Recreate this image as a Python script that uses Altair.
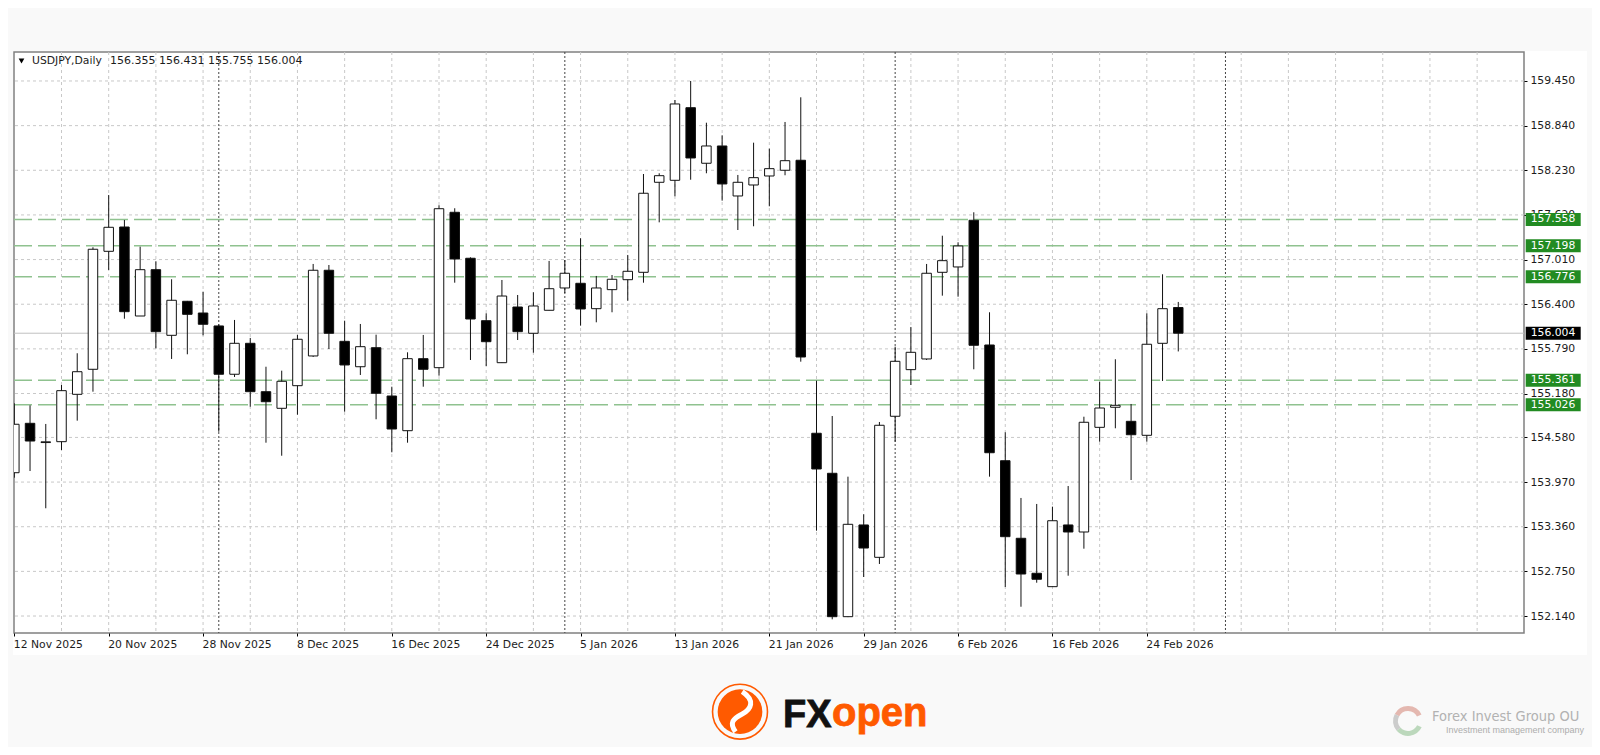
import json
import altair as alt
import pandas as pd

opens = [154.098,154.773,154.510,154.522,155.169,155.511,157.123,157.455,156.239,156.872,
         155.975,156.440,156.280,156.103,155.443,155.866,155.205,154.978,155.287,155.693,
         156.864,155.893,155.546,155.806,155.146,154.672,155.656,155.533,157.656,157.028,
         156.175,155.601,156.362,156.003,156.317,156.622,156.686,156.339,156.599,156.735,
         156.836,158.066,158.093,159.085,158.326,158.562,157.879,158.029,158.152,158.230,
         158.367,154.637,154.090,152.131,153.384,152.942,154.869,155.506,155.652,156.836,
         156.909,157.547,155.843,154.262,153.202,152.724,152.541,153.384,153.288,154.718,
         154.992,154.800,154.609,155.866,156.355]
highs = [155.046,155.019,154.764,155.296,155.730,157.178,157.892,157.551,157.186,156.987,
         156.741,156.445,156.571,156.125,156.185,155.939,155.546,155.492,155.980,156.950,
         156.936,156.175,156.130,155.984,155.273,155.743,155.980,157.752,157.711,157.041,
         156.276,156.731,156.526,156.563,156.991,157.004,157.301,156.786,156.799,157.073,
         158.179,158.189,159.190,159.450,158.880,158.708,158.166,158.607,158.525,158.890,
         159.227,155.355,154.873,154.044,153.530,154.791,155.820,156.089,156.950,157.336,
         157.246,157.656,156.290,154.650,153.753,153.671,153.634,153.916,154.863,155.342,
         155.648,155.037,156.276,156.809,156.431]
lows = [154.030,154.121,153.612,154.408,154.809,155.205,156.868,156.202,156.239,155.798,
        155.652,155.716,155.975,154.658,155.406,155.000,154.508,154.330,154.891,155.680,
        155.788,154.932,155.433,154.828,154.377,154.508,155.273,155.424,156.694,155.638,
        155.556,155.598,155.911,155.738,156.315,156.553,156.107,156.153,156.290,156.448,
        156.694,157.519,157.875,158.101,158.189,157.815,157.414,157.465,157.738,158.162,
        155.615,153.306,152.095,152.125,152.673,152.851,154.522,155.296,155.638,156.517,
        156.503,155.511,154.044,152.537,152.267,152.595,152.537,152.691,153.060,154.522,
        154.705,153.998,154.522,155.351,155.755]
closes = [154.760,154.531,154.520,155.219,155.478,157.151,157.451,156.298,156.872,156.025,
          156.454,156.262,156.126,155.443,155.866,155.205,155.068,155.347,155.921,156.864,
          156.003,155.570,155.820,155.183,154.695,155.656,155.511,157.705,157.018,156.198,
          155.888,156.512,156.025,156.376,156.612,156.823,156.335,156.622,156.741,156.850,
          157.916,158.156,159.136,158.398,158.562,158.043,158.066,158.129,158.252,158.361,
          155.679,154.149,152.131,153.393,153.069,154.746,155.620,155.743,156.823,156.995,
          157.196,155.839,154.371,153.224,152.714,152.642,153.442,153.288,154.787,154.982,
          155.019,154.617,155.853,156.339,156.004]

date_labels = ["12 Nov 2025","20 Nov 2025","28 Nov 2025","8 Dec 2025","16 Dec 2025","24 Dec 2025",
               "5 Jan 2026","13 Jan 2026","21 Jan 2026","29 Jan 2026","6 Feb 2026","16 Feb 2026","24 Feb 2026"]
date_ticks = list(range(0, 73, 6))
grid_bars = list(range(3, 96, 3))
month_bars = [13, 35, 56, 77]
price_ticks = [159.45,158.84,158.23,157.62,157.01,156.40,155.79,155.18,154.58,153.97,153.36,152.75,152.14]
levels = [157.558,157.198,156.776,155.361,155.026]
last_price = 156.004
header_name = "USDJPY,Daily"
header_ohlc = "156.355 156.431 155.755 156.004"

TXT = "#1c1c1c"
FONT = "DejaVu Sans"
FS = 10.8
W, H = 1510, 581

df = pd.DataFrame({"i": range(len(opens)), "o": opens, "h": highs, "l": lows, "c": closes})
df["fill"] = ["#ffffff" if c >= o else "#000000" for o, c in zip(opens, closes)]

xs = alt.Scale(domain=[-0.02, 95.98], nice=False, zero=False, padding=0)
ys = alt.Scale(domain=[151.908, 159.846], nice=False, zero=False, padding=0)
xaxis = alt.Axis(values=date_ticks, labelExpr=f"{json.dumps(date_labels)}[round(datum.value/6)]",
                 labelAlign="left", labelBaseline="top", labelOverlap=False, labelFlush=False, labelBound=False,
                 labelFont=FONT, labelFontSize=FS, labelColor=TXT, labelPadding=2, labelOffset=-1,
                 tickColor="#000", tickSize=3, domain=False, grid=False, title=None)
yaxis = alt.Axis(values=price_ticks, format=".3f", orient="right", labelFont=FONT, labelFontSize=FS,
                 labelColor=TXT, labelPadding=3, labelOverlap=False, labelFlush=False, labelBound=False,
                 tickColor="#000", tickSize=3, domain=False, grid=False, title=None)
Xn = lambda f: alt.X(f, scale=xs, axis=xaxis)
Yn = lambda f: alt.Y(f, scale=ys, axis=yaxis)
v = alt.value

def strip(x0, x1, y0, y1):
    return alt.Chart(pd.DataFrame({"a": [0]})).mark_rect(color="#f9f9f9").encode(x=v(x0), x2=v(x1), y=v(y0), y2=v(y1))

strips = [strip(-6, 1578, -44, -1), strip(-6, -1, -44, 695), strip(1573, 1578, -44, 695), strip(-6, 1578, 603, 695)]

vgrid = alt.Chart(pd.DataFrame({"b": grid_bars})).mark_rule(color="#c8c8c8", strokeWidth=1, strokeDash=[3, 3]).encode(x=Xn("b:Q"))
hgrid = alt.Chart(pd.DataFrame({"p": price_ticks})).mark_rule(color="#c8c8c8", strokeWidth=1, strokeDash=[3, 3]).encode(y=Yn("p:Q"))
months = alt.Chart(pd.DataFrame({"b": month_bars})).mark_rule(color="#444444", strokeWidth=1, strokeDash=[2, 2]).encode(x=Xn("b:Q"))
last_line = alt.Chart(pd.DataFrame({"p": [last_price]})).mark_rule(color="#c0c0c0", strokeWidth=1).encode(y=Yn("p:Q"))
lvl = pd.DataFrame({"p": levels, "t": [f"{p:.3f}" for p in levels]})
level_lines = alt.Chart(lvl).mark_rule(color="#8fc28f", strokeWidth=1.4, strokeDash=[18, 6]).encode(
    x=v(0), x2=v(1504), y=Yn("p:Q"))

wicks = alt.Chart(df).mark_rule(color="#111111", strokeWidth=1, clip=True).encode(x=Xn("i:Q"), y=Yn("h:Q"), y2=alt.Y2("l:Q"))
bodies = alt.Chart(df).mark_bar(size=9.5, stroke="#111111", strokeWidth=1, clip=True).encode(
    x=Xn("i:Q"), y=Yn("o:Q"), y2=alt.Y2("c:Q"), fill=alt.Fill("fill:N", scale=None))

lvl_box = alt.Chart(lvl).mark_rule(color="#228b22", strokeWidth=13).encode(x=v(1511.7), x2=v(1566.7), y=Yn("p:Q"))
lvl_txt = alt.Chart(lvl).mark_text(align="left", baseline="middle", color="#ffffff", font=FONT, fontSize=FS).encode(
    x=v(1516.7), y=Yn("p:Q"), text="t:N")
last_df = pd.DataFrame({"p": [last_price], "t": [f"{last_price:.3f}"]})
last_box = alt.Chart(last_df).mark_rule(color="#000000", strokeWidth=13).encode(x=v(1511.7), x2=v(1566.7), y=Yn("p:Q"))
last_txt = alt.Chart(last_df).mark_text(align="left", baseline="middle", color="#ffffff", font=FONT, fontSize=FS).encode(
    x=v(1516.7), y=Yn("p:Q"), text="t:N")

def label(text, x, y, size=FS, color=TXT, font=FONT, weight="normal", baseline="middle", stroke=None):
    kw = dict(align="left", baseline=baseline, color=color, font=font, fontSize=size, fontWeight=weight)
    if stroke:
        kw.update(stroke=stroke, strokeWidth=0.8)
    return alt.Chart(pd.DataFrame({"t": [text]})).mark_text(**kw).encode(x=v(x), y=v(y), text="t:N")

def pt(x, y, **kw):
    return alt.Chart(pd.DataFrame({"a": [0]})).mark_point(**kw).encode(x=v(x), y=v(y))

def arc(x, y, r0, r1, t0, t1, color):
    return alt.Chart(pd.DataFrame({"a": [0]})).mark_arc(radius=r1, radius2=r0, theta=t0, theta2=t1, color=color).encode(x=v(x), y=v(y))

header = [
    pt(7.5, 9, shape="triangle-down", filled=True, color="#000000", size=32, opacity=1),
    label(header_name, 18, 9),
    label(header_ohlc, 96, 9, size=11),
]

OR = "#ff5a00"
BX, BY = 726, 659.7
swirl = "M 0.1 -0.9 C 0.7 -0.5 0.5 -0.1 0.1 0.1 C -0.3 0.3 -0.5 0.5 -0.2 0.9"
logo = [
    pt(BX, BY, shape="circle", filled=False, color=OR, size=3019, strokeWidth=1.6, opacity=1),
    pt(BX, BY, shape="circle", filled=True, color=OR, size=2000, opacity=1),
    pt(BX, BY, shape=swirl, filled=False, color="#ffffff", size=2000, strokeWidth=5, opacity=1),
    label("FX", 769, 675, size=38, color="#111111", font="Liberation Sans", weight="bold", baseline="alphabetic", stroke="#111111"),
    label("open", 818, 674, size=40, color=OR, font="Liberation Sans", weight="bold", baseline="alphabetic", stroke=OR),
]

forex = [
    arc(1394, 669, 10, 15, 5.2, 7.4, "#e4b8b0"),
    arc(1394, 669, 10, 15, 4.0, 5.2, "#cccccc"),
    arc(1394, 669, 10, 15, 2.0, 4.0, "#bcd8bc"),
    label("Forex Invest Group OU", 1418, 665, size=14.5, color="#b2b2b2", font="DejaVu Sans Condensed, Liberation Sans"),
    label("Investment management company", 1432, 678, size=9, color="#adadad", font="Liberation Sans"),
]

chart = alt.layer(
    *strips, hgrid, vgrid, months, last_line, level_lines, wicks, bodies,
    lvl_box, lvl_txt, last_box, last_txt, *header, *logo, *forex
).properties(
    width=W, height=H, background="#ffffff",
    autosize=alt.AutoSizeParams(type="none"),
    padding={"left": 6, "top": 44, "right": 68, "bottom": 114},
).configure_view(stroke="#808080", strokeWidth=1.5)

chart.save("out.html", embed_options={"renderer": "svg", "actions": False})
